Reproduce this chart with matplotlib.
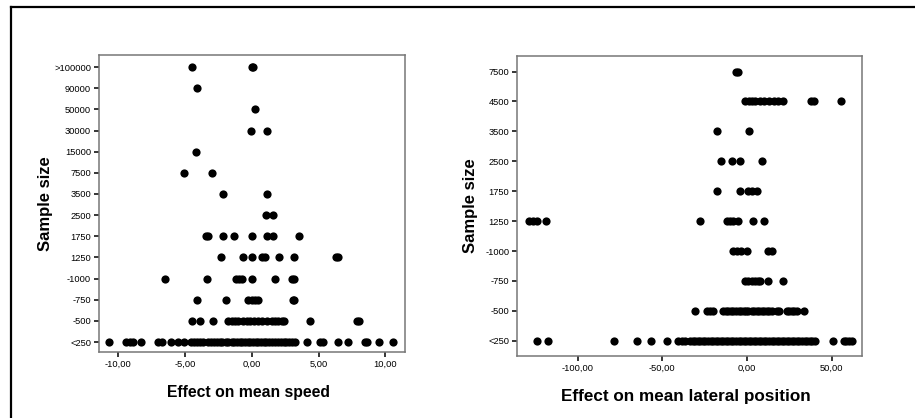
import matplotlib
matplotlib.use("Agg")
import matplotlib.pyplot as plt
from matplotlib.lines import Line2D

plt.rcParams['font.family'] = ['Liberation Sans', 'DejaVu Sans']

# ---- Left panel: effect on mean speed ----
speed_categories = ["<250", "-500", "-750", "-1000", "1250", "1750", "2500",
                    "3500", "7500", "15000", "30000", "50000", "90000", ">100000"]
speed_values = {
    ">100000": [-4.49, 0.0, 0.1],
    "90000": [-4.07],
    "50000": [0.22],
    "30000": [-0.03, 1.17],
    "15000": [-4.15],
    "7500": [-5.04, -2.97],
    "3500": [-2.17, 1.17],
    "2500": [1.05, 1.62],
    "1750": [-3.4, -3.25, -2.17, -1.30, 0.0, 1.12, 1.62, 3.56],
    "1250": [-2.27, -0.65, 0.05, 0.8, 1.0, 2.04, 3.14, 6.3, 6.45],
    "-1000": [-6.49, -3.32, -1.2, -0.95, -0.75, 0.05, 1.74, 3.05, 3.2],
    "-750": [-4.1, -1.92, -0.25, 0.0, 0.25, 0.5, 3.1, 3.2],
    "-500": [-4.47, -3.87, -2.87, -1.8, -1.5, -1.25, -1.0, -0.67, -0.35, -0.1,
             0.2, 0.5, 0.75, 1.12, 1.5, 1.75, 2.0, 2.25, 2.44, 4.36, 7.9, 8.05],
    "<250": [-10.7, -9.43, -9.1, -8.85, -8.29, -7.0, -6.7, -6.06, -5.49, -5.04,
             -4.57, -4.3, -4.1, -3.9, -3.62, -3.25, -3.05, -2.8, -2.6, -2.4,
             -2.2, -1.95, -1.75, -1.5, -1.3, -1.1, -0.9, -0.7, -0.5, -0.3,
             -0.1, 0.1, 0.3, 0.5, 0.7, 0.9, 1.1, 1.3, 1.55, 1.75, 1.95, 2.2,
             2.4, 2.6, 2.8, 3.0, 3.24, 4.16, 5.12, 5.3, 6.44, 7.23, 8.5, 8.65,
             9.53, 10.6],
}
speed_xticks = [-10, -5, 0, 5, 10]
speed_xticklabels = ["-10,00", "-5,00", "0,00", "5,00", "10,00"]

# ---- Right panel: effect on mean lateral position ----
lat_categories = ["<250", "-500", "-750", "-1000", "1250", "1750", "2500",
                  "3500", "4500", "7500"]
lat_values = {
    "7500": [-6.5, -5.5],
    "4500": [-1.0, 1.0, 3.0, 5.0, 7.5, 10.0, 13.0, 16.0, 18.5, 21.0, 38.0, 39.5, 55.3],
    "3500": [-17.7, 1.2],
    "2500": [-15.5, -9.0, -4.1, 8.7],
    "1750": [-17.7, -4.1, 0.8, 3.2, 5.7],
    "1250": [-129.0, -126.5, -124.0, -118.8, -27.7, -12.0, -10.0, -8.0, -5.1, 3.7, 10.0],
    "-1000": [-8.1, -5.9, -3.5, -0.2, 12.6, 14.6],
    "-750": [-1.2, 0.8, 2.7, 4.7, 6.7, 7.7, 12.2, 21.4],
    "-500": [-30.7, -23.8, -22.0, -20.0, -14.0, -12.5, -11.0, -9.5, -8.0, -6.5,
             -5.0, -3.5, -2.0, -0.5, 0.8, 2.8, 4.3, 5.8, 7.3, 8.8, 10.3, 11.8,
             13.3, 14.6, 17.5, 19.0, 23.4, 25.0, 26.5, 28.0, 29.3, 33.8],
    "<250": [-124.1, -117.3, -78.3, -65.1, -56.7, -47.4, -40.6, -38.5, -36.6,
             -33.6, -32.0, -30.5, -29.0, -27.5, -26.0, -24.5, -23.0, -21.5, -20.0,
             -18.5, -17.0, -15.5, -14.0, -12.5, -11.0, -9.5, -8.0, -6.5, -5.0,
             -3.5, -2.0, -0.5, 1.0, 2.5, 4.0, 5.5, 7.0, 8.5, 10.0, 11.5, 13.0,
             14.5, 16.0, 17.5, 19.0, 20.5, 22.0, 23.5, 25.0, 26.5, 28.0, 29.5,
             31.0, 32.5, 34.0, 35.5, 37.0, 38.5, 40.1, 51.0, 57.0, 58.5, 60.0,
             61.8],
}
lat_xticks = [-100, -50, 0, 50]
lat_xticklabels = ["-100,00", "-50,00", "0,00", "50,00"]

W, H = 915, 418
fig = plt.figure(figsize=(W / 100, H / 100), dpi=100)
fig.patch.set_facecolor("white")

# outer frame (top and left edges visible)
fig.add_artist(Line2D([11 / W, 1.0], [1 - 7 / H, 1 - 7 / H], color="black",
                      lw=1.6, transform=fig.transFigure))
fig.add_artist(Line2D([11 / W, 11 / W], [0.0, 1 - 7 / H], color="black",
                      lw=1.6, transform=fig.transFigure))


def panel(rect, categories, values, xticks, xticklabels, xlim, ylim, xlabel,
          xlab_size, xlab_y, ylab_x):
    ax = fig.add_axes(rect)
    for i, cat in enumerate(categories):
        xs = values[cat]
        ax.scatter(xs, [i] * len(xs), s=35, color="black", linewidths=0, zorder=3)
    ax.set_xlim(*xlim)
    ax.set_ylim(*ylim)
    ax.set_yticks(range(len(categories)))
    ax.set_yticklabels(categories)
    ax.set_xticks(xticks)
    ax.set_xticklabels(xticklabels)
    ax.tick_params(axis="both", direction="out", length=3.5, width=1.1,
                   labelsize=6.7, color="black", pad=2)
    for sp in ax.spines.values():
        sp.set_color("#777777")
        sp.set_linewidth(1.1)
    ax.set_xlabel(xlabel, fontsize=xlab_size, fontweight="bold")
    ax.set_ylabel("Sample size", fontsize=12, fontweight="bold")
    ax.xaxis.set_label_coords(0.49, xlab_y)
    ax.yaxis.set_label_coords(ylab_x, 0.5)
    return ax


panel([98.7 / W, 1 - 352 / H, (405 - 98.7) / W, (352 - 55) / H],
      speed_categories, speed_values, speed_xticks, speed_xticklabels,
      (-11.45, 11.47), (-0.47, 13.57), "Effect on mean speed", 11.3, -0.112,
      -0.15)

panel([517 / W, 1 - 356 / H, (862.3 - 517) / W, (356 - 56) / H],
      lat_categories, lat_values, lat_xticks, lat_xticklabels,
      (-135.8, 68.1), (-0.51, 9.52), "Effect on mean lateral position", 12.3,
      -0.11, -0.114)

fig.savefig("out.png", dpi=100, facecolor="white")
